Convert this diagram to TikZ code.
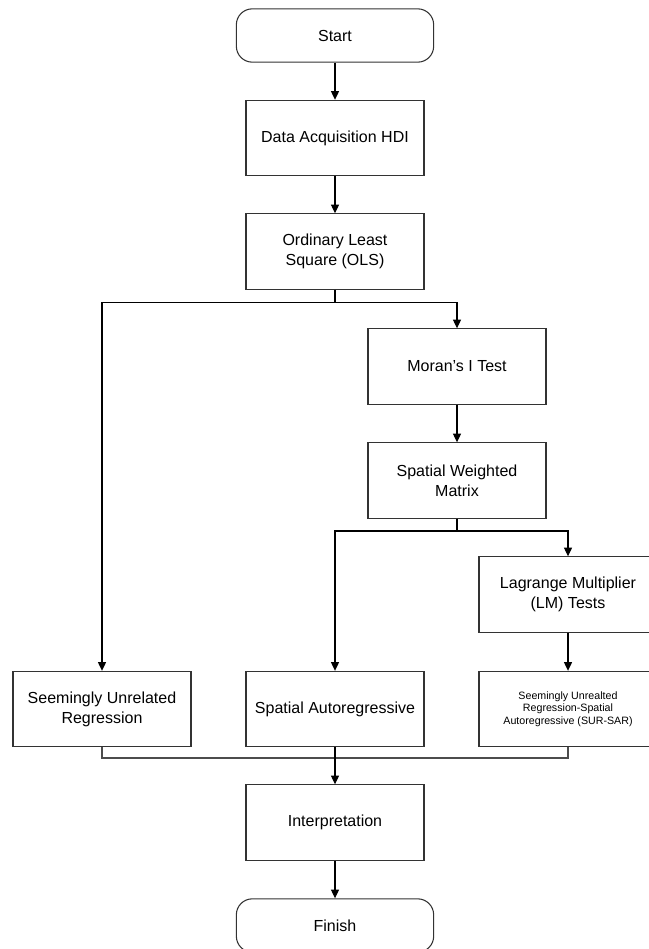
\documentclass[tikz,border=0pt]{standalone}
\usepackage{fontspec}
\setmainfont{Liberation Sans}
\usetikzlibrary{arrows.meta}
\begin{document}
\begin{tikzpicture}[x=0.75pt,y=-0.75pt,
  box/.style={draw=black!80,line width=0.8pt,minimum width=133.5pt,minimum height=56.5pt,inner sep=2pt,align=center,font=\fontsize{12}{14.8}\selectfont},
  term/.style={draw=black!80,line width=0.8pt,rounded corners=12pt,minimum width=148pt,minimum height=40pt,align=center,font=\fontsize{12}{14.8}\selectfont},
  conn/.style={draw=black,line width=0.8pt},
  arr/.style={conn,-{Triangle[length=6.5pt,width=6pt]}},
  merge/.style={draw=black!70,line width=0.9pt}]
\useasboundingbox (0,0) rectangle (649,949);
\clip (0,0) rectangle (649,949);
\node[term] (start) at (335,35.5) {Start};
\node[box] (da) at (335,138) {Data Acquisition HDI};
\node[box] (ols) at (335,251.5) {Ordinary Least\\Square (OLS)};
\node[box] (moran) at (457,366.5) {Moran’s I Test};
\node[box] (swm) at (457,480.5) {Spatial Weighted\\Matrix};
\node[box] (lm) at (568,594.5) {Lagrange Multiplier\\(LM) Tests};
\node[box] (sur) at (102,709) {Seemingly Unrelated\\Regression};
\node[box] (sar) at (335,709) {Spatial Autoregressive};
\node[box,font=\fontsize{8}{9.4}\selectfont] (sursar) at (568,709) {Seemingly Unrealted\\Regression-Spatial\\Autoregressive (SUR-SAR)};
\node[box] (interp) at (335,822.5) {Interpretation};
\node[term] (finish) at (335,925.5) {Finish};
\coordinate (b1) at (335,302.5);
\coordinate (b2) at (457,531);
\coordinate (m1) at (335,758);
\draw[arr] (start) -- (da);
\draw[arr] (da) -- (ols);
\draw[conn] (ols.south) -- (b1);
\draw[arr] (b1) -| (moran.north);
\draw[arr] (b1) -| (sur.north);
\draw[arr] (moran) -- (swm);
\draw[conn] (swm.south) -- (b2);
\draw[arr] (b2) -| (lm.north);
\draw[arr] (b2) -| (sar.north);
\draw[arr] (lm) -- (sursar);
\draw[merge] (sur.south) |- (m1) -| (sursar.south);
\draw[arr] (sar.south) -- (interp.north);
\draw[arr] (interp) -- (finish);
\end{tikzpicture}
\end{document}
